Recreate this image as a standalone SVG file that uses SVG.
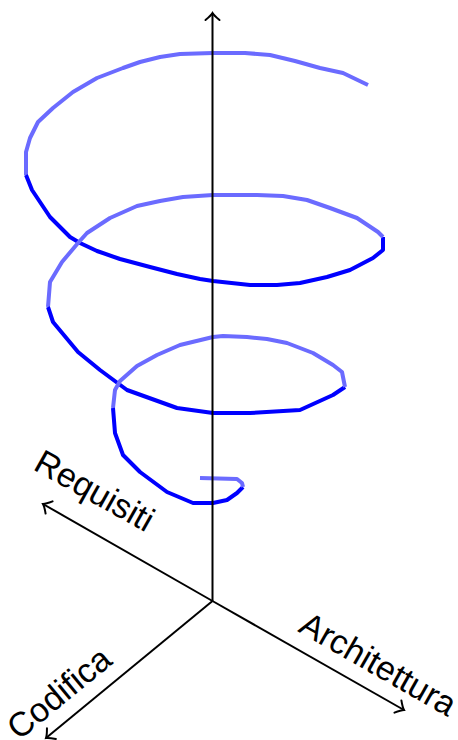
<svg xmlns="http://www.w3.org/2000/svg" width="458" height="740" viewBox="0 0 458 740">
<style>
.back{fill:none;stroke:#6b6bff;stroke-width:4;stroke-linejoin:round;stroke-linecap:butt}
.front{fill:none;stroke:#0000ff;stroke-width:4;stroke-linejoin:round;stroke-linecap:butt}
.axis{fill:none;stroke:#000;stroke-width:2;marker-end:url(#ah)}
.lbl{font-family:"Liberation Sans",Arial,sans-serif;font-size:34px;fill:#000}
</style>
<defs>
<marker id="ah" markerUnits="userSpaceOnUse" markerWidth="20" markerHeight="20" viewBox="-10 -10 20 20" refX="0" refY="0" orient="auto" overflow="visible">
<path d="M-7,-7 Q-2.5,-1.5 0,0 Q-2.5,1.5 -7,7" fill="none" stroke="#000" stroke-width="2" stroke-linecap="round"/>
</marker>
</defs>
<g id="spiral">
<polyline class="back" points="368,85 343,73 320,68 295,61 270,55 245,53 213,53 180,54 160,57 140,62 123,68 97,78 73,92 53,108 38,122 30,138 26,152 26,175"/>
<polyline class="front" points="26,175 32,190 50,217 70,237 80,243 97,251 120,259 150,267 177,274 200,279 213,281 250,285 277,285 300,283 327,277 350,270 373,258 383,250 383,237"/>
<polyline class="back" points="383,237 378,232 357,218 330,208 307,200 283,196 257,195 213,195 183,197 160,201 137,206 110,218 87,233 78,243 62,262 50,282 48,307"/>
<polyline class="front" points="48,307 53,322 78,352 100,370 127,390 177,408 213,413 250,413 300,410 333,395 345,387"/>
<polyline class="back" points="345,387 342,372 333,365 313,353 287,343 267,339 247,337 223,336 213,337 180,345 157,355 137,366 120,381 115,390 113,408"/>
<polyline class="front" points="113,408 115,433 123,455 140,472 167,492 193,503 213,503 227,500 237,493 243,487"/>
<polyline class="back" points="243,487 242,483 237,479 200,478"/>
</g>
<g id="axes">
<line class="axis" x1="212.5" y1="601" x2="212.5" y2="13"/>
<line class="axis" x1="212.5" y1="601" x2="43" y2="504"/>
<line class="axis" x1="212.5" y1="601" x2="404" y2="710"/>
<line class="axis" x1="212.5" y1="601" x2="46" y2="738"/>
</g>
<g id="labels">
<text class="lbl" transform="translate(32,469) rotate(29.2)">Requisiti</text>
<text class="lbl" transform="translate(297,631) rotate(29.7)">Architettura</text>
<text class="lbl" transform="translate(19,741) rotate(-39.5)">Codifica</text>
</g>
</svg>
